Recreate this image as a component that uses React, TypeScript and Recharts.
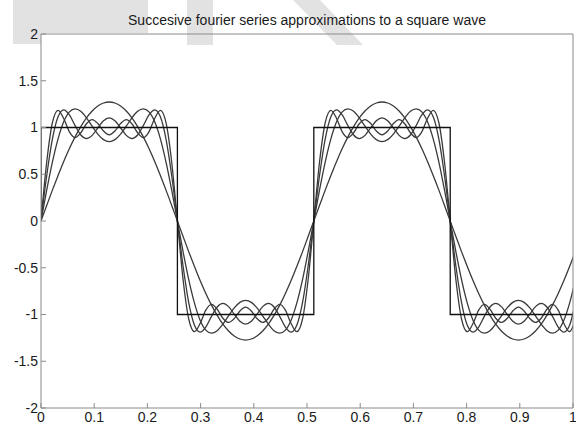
import React from 'react';
import { LineChart, Line, XAxis, YAxis } from 'recharts';

// sample positions along the time axis
const xs = [
  0, 0.0107, 0.0214, 0.0321, 0.0427, 0.0534, 0.0641, 0.0748, 0.0855, 0.0962, 0.1068, 0.1175,
  0.1282, 0.1389, 0.1496, 0.1603, 0.1709, 0.1816, 0.1923, 0.2030, 0.2137, 0.2244, 0.2350, 0.2457,
  0.2564, 0.2671, 0.2778, 0.2885, 0.2991, 0.3098, 0.3205, 0.3312, 0.3419, 0.3526, 0.3632, 0.3739,
  0.3846, 0.3953, 0.4060, 0.4167, 0.4274, 0.4380, 0.4487, 0.4594, 0.4701, 0.4808, 0.4915, 0.5021,
  0.5128, 0.5235, 0.5342, 0.5449, 0.5556, 0.5662, 0.5769, 0.5876, 0.5983, 0.6090, 0.6197, 0.6303,
  0.6410, 0.6517, 0.6624, 0.6731, 0.6838, 0.6944, 0.7051, 0.7158, 0.7265, 0.7372, 0.7479, 0.7585,
  0.7692, 0.7799, 0.7906, 0.8013, 0.8120, 0.8227, 0.8333, 0.8440, 0.8547, 0.8654, 0.8761, 0.8868,
  0.8974, 0.9081, 0.9188, 0.9295, 0.9402, 0.9509, 0.9615, 0.9722, 0.9829, 0.9936, 1.0043,
];

// 1 harmonic
const h1 = [
  0, 0.166, 0.330, 0.487, 0.637, 0.775, 0.900, 1.010, 1.103, 1.176, 1.230, 1.262,
  1.273, 1.262, 1.230, 1.176, 1.103, 1.010, 0.900, 0.775, 0.637, 0.487, 0.330, 0.166,
  0, -0.166, -0.330, -0.487, -0.637, -0.775, -0.900, -1.010, -1.103, -1.176, -1.230, -1.262,
  -1.273, -1.262, -1.230, -1.176, -1.103, -1.010, -0.900, -0.775, -0.637, -0.487, -0.330, -0.166,
  0, 0.166, 0.330, 0.487, 0.637, 0.775, 0.900, 1.010, 1.103, 1.176, 1.230, 1.262,
  1.273, 1.262, 1.230, 1.176, 1.103, 1.010, 0.900, 0.775, 0.637, 0.487, 0.330, 0.166,
  0, -0.166, -0.330, -0.487, -0.637, -0.775, -0.900, -1.010, -1.103, -1.176, -1.230, -1.262,
  -1.273, -1.262, -1.230, -1.176, -1.103, -1.010, -0.900, -0.775, -0.637, -0.487, -0.330,
];

// 1 + 3
const h3 = [
  0, 0.329, 0.630, 0.879, 1.061, 1.167, 1.200, 1.173, 1.103, 1.014, 0.930, 0.870,
  0.849, 0.870, 0.930, 1.014, 1.103, 1.173, 1.200, 1.167, 1.061, 0.879, 0.630, 0.329,
  0, -0.329, -0.630, -0.879, -1.061, -1.167, -1.200, -1.173, -1.103, -1.014, -0.930, -0.870,
  -0.849, -0.870, -0.930, -1.014, -1.103, -1.173, -1.200, -1.167, -1.061, -0.879, -0.630, -0.329,
  0, 0.329, 0.630, 0.879, 1.061, 1.167, 1.200, 1.173, 1.103, 1.014, 0.930, 0.870,
  0.849, 0.870, 0.930, 1.014, 1.103, 1.173, 1.200, 1.167, 1.061, 0.879, 0.630, 0.329,
  0, -0.329, -0.630, -0.879, -1.061, -1.167, -1.200, -1.173, -1.103, -1.014, -0.930, -0.870,
  -0.849, -0.870, -0.930, -1.014, -1.103, -1.173, -1.200, -1.167, -1.061, -0.879, -0.630,
];

// 1 + 3 + 5
const h5 = [
  0, 0.484, 0.876, 1.115, 1.188, 1.134, 1.020, 0.920, 0.882, 0.916, 0.996, 1.072,
  1.103, 1.072, 0.996, 0.916, 0.882, 0.920, 1.020, 1.134, 1.188, 1.115, 0.876, 0.484,
  0, -0.484, -0.876, -1.115, -1.188, -1.134, -1.020, -0.920, -0.882, -0.916, -0.996, -1.072,
  -1.103, -1.072, -0.996, -0.916, -0.882, -0.920, -1.020, -1.134, -1.188, -1.115, -0.876, -0.484,
  0, 0.484, 0.876, 1.115, 1.188, 1.134, 1.020, 0.920, 0.882, 0.916, 0.996, 1.072,
  1.103, 1.072, 0.996, 0.916, 0.882, 0.920, 1.020, 1.134, 1.188, 1.115, 0.876, 0.484,
  0, -0.484, -0.876, -1.115, -1.188, -1.134, -1.020, -0.920, -0.882, -0.916, -0.996, -1.072,
  -1.103, -1.072, -0.996, -0.916, -0.882, -0.920, -1.020, -1.134, -1.188, -1.115, -0.876,
];

// 1 + 3 + 5 + 7
const h7 = [
  0, 0.628, 1.051, 1.184, 1.097, 0.954, 0.892, 0.944, 1.040, 1.085, 1.043, 0.962,
  0.922, 0.962, 1.043, 1.085, 1.040, 0.944, 0.892, 0.954, 1.097, 1.184, 1.051, 0.628,
  0, -0.628, -1.051, -1.184, -1.097, -0.954, -0.892, -0.944, -1.040, -1.085, -1.043, -0.962,
  -0.922, -0.962, -1.043, -1.085, -1.040, -0.944, -0.892, -0.954, -1.097, -1.184, -1.051, -0.628,
  0, 0.628, 1.051, 1.184, 1.097, 0.954, 0.892, 0.944, 1.040, 1.085, 1.043, 0.962,
  0.922, 0.962, 1.043, 1.085, 1.040, 0.944, 0.892, 0.954, 1.097, 1.184, 1.051, 0.628,
  0, -0.628, -1.051, -1.184, -1.097, -0.954, -0.892, -0.944, -1.040, -1.085, -1.043, -0.962,
  -0.922, -0.962, -1.043, -1.085, -1.040, -0.944, -0.892, -0.954, -1.097, -1.184, -1.051,
];

// the square wave itself (corners only)
const squareX = [0, 0, 0.2564, 0.2564, 0.5128, 0.5128, 0.7692, 0.7692, 1];
const squareY = [0, 1, 1, -1, -1, 1, 1, -1, -1];

const xTicks = [0, 0.1, 0.2, 0.3, 0.4, 0.5, 0.6, 0.7, 0.8, 0.9, 1];
const yTicks = [-2, -1.5, -1, -0.5, 0, 0.5, 1, 1.5, 2];

const rows = xs.map((x, i) => ({ x, h1: h1[i], h3: h3[i], h5: h5[i], h7: h7[i] }));
const squareRows = squareX.map((x, i) => ({ x, y: squareY[i] }));

const font = '"Liberation Sans", Arial, sans-serif';
const tickStyle = { fontSize: 14, fill: '#1a1a1a', fontFamily: font };
const frame = '#8a8a8a';
const curve = '#3a3a3a';

export default function App() {
  return (
    <div style={{ position: 'absolute', left: 0, top: 0, width: 576, height: 425, background: '#fff' }}>
      <svg width={576} height={425} style={{ position: 'absolute', left: 0, top: 0 }}>
        {/* faint watermark shapes */}
        <polygon points="13,0 148,0 148,33 41,33 41,44 13,44" fill="#e2e2e2" />
        <rect x={187} y={0} width={26} height={45} fill="#e2e2e2" />
        <polygon points="293,0 320,0 363,45 337,45" fill="#e2e2e2" />
        <text x={307} y={25} textAnchor="middle" fontSize={14} fontFamily={font} fill="#1a1a1a">
          Succesive fourier series approximations to a square wave
        </text>
      </svg>
      <div style={{ position: 'absolute', left: 0, top: 0 }}>
        <LineChart width={576} height={425} data={rows} margin={{ top: 33, right: 2, bottom: 0, left: 0 }}>
          <XAxis
            dataKey="x"
            type="number"
            domain={[0, 1]}
            ticks={xTicks}
            interval={0}
            allowDataOverflow
            height={17}
            tickSize={-5}
            tickMargin={9}
            tick={tickStyle}
            stroke={frame}
          />
          <XAxis
            xAxisId="top"
            orientation="top"
            dataKey="x"
            type="number"
            domain={[0, 1]}
            ticks={xTicks}
            interval={0}
            allowDataOverflow
            height={1}
            tickSize={-5}
            tick={false}
            stroke={frame}
          />
          <YAxis
            type="number"
            domain={[-2, 2]}
            ticks={yTicks}
            interval={0}
            allowDataOverflow
            width={41}
            tickSize={-5}
            tickMargin={8}
            tick={tickStyle}
            stroke={frame}
          />
          <YAxis
            yAxisId="right"
            orientation="right"
            type="number"
            domain={[-2, 2]}
            ticks={yTicks}
            interval={0}
            allowDataOverflow
            width={1}
            tickSize={-5}
            tick={false}
            stroke={frame}
          />
          {/* invisible copy so the top/right frame axes get drawn */}
          <Line
            xAxisId="top"
            yAxisId="right"
            dataKey="h1"
            stroke="none"
            dot={false}
            activeDot={false}
            isAnimationActive={false}
          />
          <Line dataKey="h1" type="monotone" stroke={curve} strokeWidth={1.3} dot={false} isAnimationActive={false} />
          <Line dataKey="h3" type="monotone" stroke={curve} strokeWidth={1.3} dot={false} isAnimationActive={false} />
          <Line dataKey="h5" type="monotone" stroke={curve} strokeWidth={1.3} dot={false} isAnimationActive={false} />
          <Line dataKey="h7" type="monotone" stroke={curve} strokeWidth={1.3} dot={false} isAnimationActive={false} />
          <Line
            data={squareRows}
            dataKey="y"
            type="linear"
            stroke="#111"
            strokeWidth={1.3}
            dot={false}
            isAnimationActive={false}
          />
        </LineChart>
      </div>
    </div>
  );
}
